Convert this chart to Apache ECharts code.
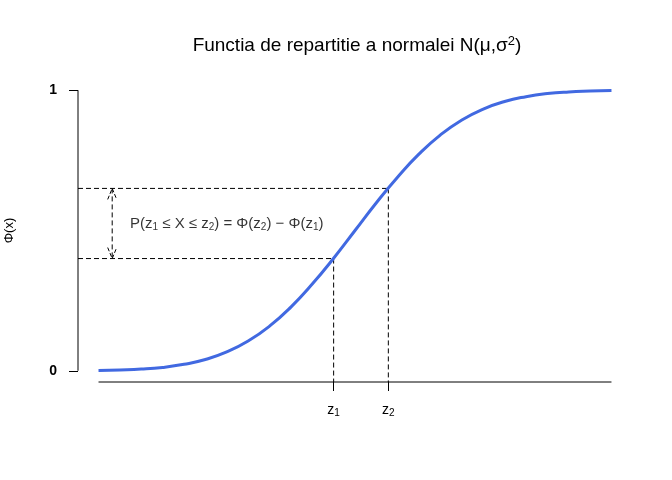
<!DOCTYPE html>
<html>
<head>
<meta charset="utf-8">
<script src="https://cdn.jsdelivr.net/npm/echarts@6/dist/echarts.min.js"></script>
<style>html,body{margin:0;padding:0;background:#fff}#c{width:672px;height:480px}</style>
</head>
<body>
<div id="c"></div>
<script>
// Curve points (x, Phi(x))
const curveX = [-3,-2.75,-2.5,-2.25,-2,-1.75,-1.5,-1.25,-1,-0.75,-0.5,-0.25,0,0.25,0.5,0.75,1,1.25,1.5,1.75,2,2.25,2.5,2.75,3];
const curveY = [0.001,0.003,0.006,0.012,0.023,0.040,0.067,0.106,0.159,0.227,0.309,0.401,0.500,0.599,0.691,0.773,0.841,0.894,0.933,0.960,0.977,0.988,0.994,0.997,0.999];
const zValues = [-0.25, 0.39];
const zPhi = [0.40, 0.65];
const zLabels = ['1', '2'];
const yTicks = [0, 1];
const xRange = [-3, 3];
const arrowX = -2.84;
const annX = -1.5;

const FONT = '"Liberation Sans", Arial, sans-serif';
const xmin = -3.24, xmax = 3.24, ymin = -0.04, ymax = 1.04;

const curveData = curveX.map((x, i) => [x, curveY[i]]);
const ann = '{n|P(z}{s|1}{n| \u2264 X \u2264 z}{s|2}{n|) = \u03A6(z}{s|2}{n|) \u2212 \u03A6(z}{s|1}{n|)}';

const dashStyle = { color: '#000', width: 1, type: [5, 3] };

function lineSeries(data, style) {
  return { type: 'line', data: data, symbol: 'none', clip: false, silent: true,
           lineStyle: style, z: 3, animation: false };
}

const series = [];
// axis lines drawn as segments
series.push(lineSeries([[xmin, yTicks[0]], [xmin, yTicks[1]]], { color: '#000', width: 1 }));
series.push(lineSeries([[xRange[0], ymin], [xRange[1], ymin]], { color: '#000', width: 1 }));
// dashed guides
for (let i = 0; i < zValues.length; i++) {
  series.push(lineSeries([[xmin, zPhi[i]], [zValues[i], zPhi[i]]], dashStyle));
  series.push(lineSeries([[zValues[i], zPhi[i]], [zValues[i], ymin]], dashStyle));
}
// curve
series.push({ type: 'line', data: curveData, symbol: 'none', smooth: true, clip: false, silent: true,
  lineStyle: { color: '#4169E1', width: 3 }, z: 5, animation: false });
// double arrow
series.push({
  type: 'custom', data: [[arrowX, zPhi[0], zPhi[1]]], silent: true, animation: false, z: 4,
  renderItem: function (params, api) {
    const p1 = api.coord([api.value(0), api.value(1)]);
    const p2 = api.coord([api.value(0), api.value(2)]);
    const top = p2[1] < p1[1] ? p2 : p1, bot = p2[1] < p1[1] ? p1 : p2;
    const L = 11, W = 4.5;
    const st = { stroke: '#000', lineWidth: 1, lineDash: [5, 3], fill: null };
    const st2 = { stroke: '#000', lineWidth: 1, lineDash: [4, 2], fill: null };
    return { type: 'group', children: [
      { type: 'line', shape: { x1: top[0], y1: top[1], x2: bot[0], y2: bot[1] }, style: st },
      { type: 'polyline', shape: { points: [[top[0] - W, top[1] + L], [top[0], top[1]], [top[0] + W, top[1] + L]] }, style: st2 },
      { type: 'polyline', shape: { points: [[bot[0] - W, bot[1] - L], [bot[0], bot[1]], [bot[0] + W, bot[1] - L]] }, style: st2 }
    ]};
  }
});
// annotation
series.push({
  type: 'scatter', data: [[annX, (zPhi[0] + zPhi[1]) / 2]], symbolSize: 0, silent: true, animation: false,
  label: { show: true, position: 'inside', formatter: ann,
    rich: {
      n: { fontFamily: FONT, fontSize: 15, color: '#000', lineHeight: 18, verticalAlign: 'middle' },
      s: { fontFamily: FONT, fontSize: 10, color: '#000', lineHeight: 4, verticalAlign: 'bottom' }
    } }
});

const option = {
  animation: false,
  backgroundColor: '#fff',
  title: {
    text: '{n|Functia de repartitie a normalei N(\u03BC,\u03C3}{sup|2}{n|)}',
    left: 352, top: 30, textAlign: 'center',
    textStyle: { fontFamily: FONT, fontSize: 19, fontWeight: 'normal', color: '#000',
      rich: {
        n: { fontFamily: FONT, fontSize: 19, color: '#000', lineHeight: 22, verticalAlign: 'middle' },
        sup: { fontFamily: FONT, fontSize: 13, color: '#000', verticalAlign: 'top', lineHeight: 2 }
      } }
  },
  grid: { left: 78, top: 79, width: 554, height: 303, containLabel: false, outerBoundsMode: 'none' },
  xAxis: {
    type: 'value', min: xmin, max: xmax,
    axisLine: { show: false, onZero: false }, splitLine: { show: false },
    axisTick: { show: true, length: 9, lineStyle: { color: '#000' }, customValues: zValues },
    axisLabel: { show: true, margin: 20, customValues: zValues,
      formatter: function (v) { const i = zValues.indexOf(v); return '{n|z}{s|' + zLabels[i] + '}'; },
      rich: {
        n: { fontFamily: FONT, fontSize: 14, color: '#000', lineHeight: 16, verticalAlign: 'middle' },
        s: { fontFamily: FONT, fontSize: 10, color: '#000', lineHeight: 4, verticalAlign: 'bottom' }
      } }
  },
  yAxis: {
    type: 'value', min: ymin, max: ymax,
    name: '\u03A6(x)', nameLocation: 'middle', nameGap: 62, nameRotate: 90,
    nameTextStyle: { fontFamily: FONT, fontSize: 13, color: '#000' },
    axisLine: { show: false, onZero: false }, splitLine: { show: false },
    axisTick: { show: true, length: 9, lineStyle: { color: '#000' }, customValues: yTicks },
    axisLabel: { show: true, margin: 21, customValues: yTicks, fontFamily: FONT, fontSize: 14,
      fontWeight: 'bold', color: '#000' }
  },
  series: series
};

echarts.init(document.getElementById('c'), null, { renderer: 'canvas' }).setOption(option);
</script>
</body>
</html>
